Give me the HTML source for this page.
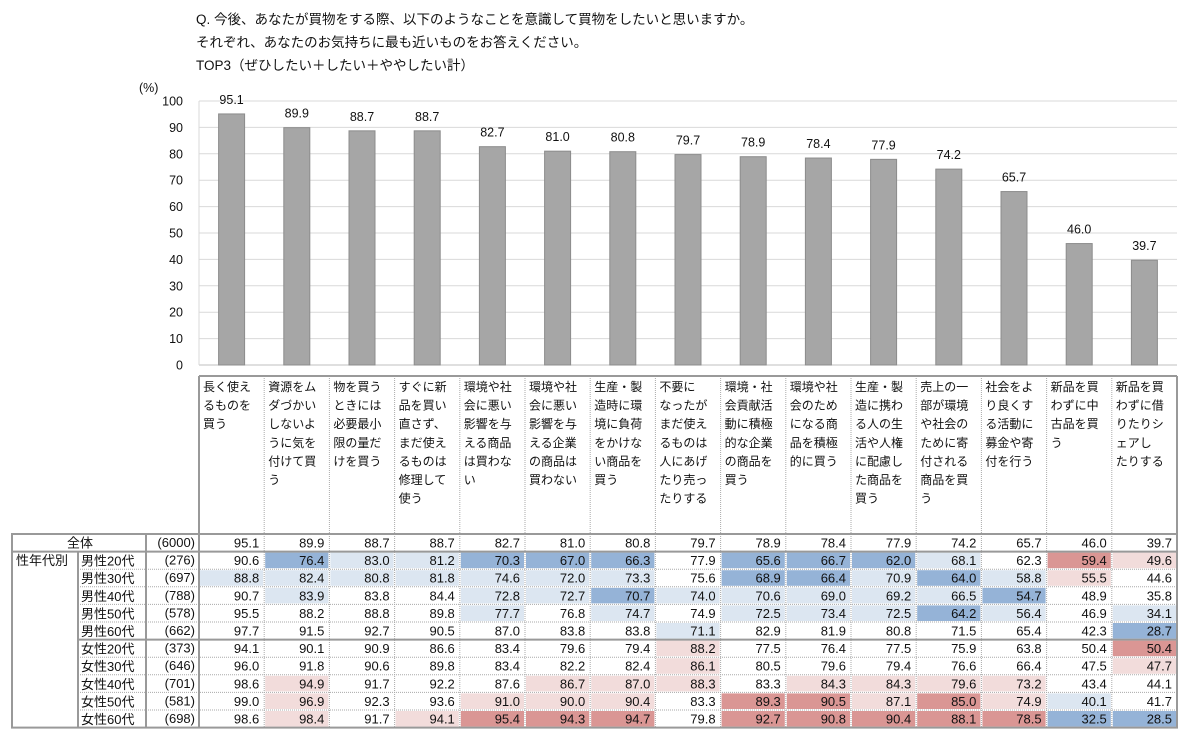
<!DOCTYPE html>
<html><head><meta charset="utf-8"><style>
body{margin:0;background:#fff;}
svg text{font-family:"Liberation Sans","Noto Sans CJK JP",sans-serif;fill:#111;}
</style></head><body>
<svg id="c" width="1186" height="738" xmlns="http://www.w3.org/2000/svg">
<text x="196" y="24" font-size="13.5">Q. 今後、あなたが買物をする際、以下のようなことを意識して買物をしたいと思いますか。</text>
<text x="196" y="47" font-size="13.5">それぞれ、あなたのお気持ちに最も近いものをお答えください。</text>
<text x="196" y="70" font-size="13.5">TOP3（ぜひしたい＋したい＋ややしたい計）</text>
<text x="139" y="92" font-size="12.5">(%)</text>
</svg>
<script>
const categories=[
"長く使え|るものを|買う","資源をム|ダづかい|しないよ|うに気を|付けて買|う","物を買う|ときには|必要最小|限の量だ|けを買う",
"すぐに新|品を買い|直さず、|まだ使え|るものは|修理して|使う","環境や社|会に悪い|影響を与|える商品|は買わな|い",
"環境や社|会に悪い|影響を与|える企業|の商品は|買わない","生産・製|造時に環|境に負荷|をかけな|い商品を|買う",
"不要に|なったが|まだ使え|るものは|人にあげ|たり売っ|たりする","環境・社|会貢献活|動に積極|的な企業|の商品を|買う",
"環境や社|会のため|になる商|品を積極|的に買う","生産・製|造に携わ|る人の生|活や人権|に配慮し|た商品を|買う",
"売上の一|部が環境|や社会の|ために寄|付される|商品を買|う","社会をよ|り良くす|る活動に|募金や寄|付を行う",
"新品を買|わずに中|古品を買|う","新品を買|わずに借|りたりシ|ェアし|たりする"];
const totals=[95.1,89.9,88.7,88.7,82.7,81.0,80.8,79.7,78.9,78.4,77.9,74.2,65.7,46.0,39.7];
const yTicks=[0,10,20,30,40,50,60,70,80,90,100];
const groups=["男性20代","男性30代","男性40代","男性50代","男性60代","女性20代","女性30代","女性40代","女性50代","女性60代"];
const counts=["(276)","(697)","(788)","(578)","(662)","(373)","(646)","(701)","(581)","(698)"];
const totalCount="(6000)";
const rowValues=[
[90.6,76.4,83.0,81.2,70.3,67.0,66.3,77.9,65.6,66.7,62.0,68.1,62.3,59.4,49.6],
[88.8,82.4,80.8,81.8,74.6,72.0,73.3,75.6,68.9,66.4,70.9,64.0,58.8,55.5,44.6],
[90.7,83.9,83.8,84.4,72.8,72.7,70.7,74.0,70.6,69.0,69.2,66.5,54.7,48.9,35.8],
[95.5,88.2,88.8,89.8,77.7,76.8,74.7,74.9,72.5,73.4,72.5,64.2,56.4,46.9,34.1],
[97.7,91.5,92.7,90.5,87.0,83.8,83.8,71.1,82.9,81.9,80.8,71.5,65.4,42.3,28.7],
[94.1,90.1,90.9,86.6,83.4,79.6,79.4,88.2,77.5,76.4,77.5,75.9,63.8,50.4,50.4],
[96.0,91.8,90.6,89.8,83.4,82.2,82.4,86.1,80.5,79.6,79.4,76.6,66.4,47.5,47.7],
[98.6,94.9,91.7,92.2,87.6,86.7,87.0,88.3,83.3,84.3,84.3,79.6,73.2,43.4,44.1],
[99.0,96.9,92.3,93.6,91.0,90.0,90.4,83.3,89.3,90.5,87.1,85.0,74.9,40.1,41.7],
[98.6,98.4,91.7,94.1,95.4,94.3,94.7,79.8,92.7,90.8,90.4,88.1,78.5,32.5,28.5]];

const svg=document.getElementById('c');
const NS='http://www.w3.org/2000/svg';
function el(t,a,txt){const e=document.createElementNS(NS,t);for(const k in a)e.setAttribute(k,a[k]);if(txt!=null)e.textContent=txt;svg.appendChild(e);return e;}
const X0=199,X1=1177,CW=(X1-X0)/15;
const yS=v=>365-v*2.64;
const xC=i=>X0+CW*(i+0.5);
yTicks.forEach(t=>{
 const g=el('line',{x1:X0,x2:X1,y1:yS(t),y2:yS(t),stroke:t===0?'#bfbfbf':'#d9d9d9','stroke-width':1});
 
 const l=el('text',{x:183,y:yS(t)+4.5,'font-size':12.5,'text-anchor':'end'},t);
 
});
el('line',{x1:X0,x2:X0,y1:yS(100),y2:yS(0),stroke:'#d9d9d9'});
totals.forEach((v,i)=>{
 const b=el('rect',{x:xC(i)-13,y:yS(v),width:26,height:yS(0)-yS(v),fill:'#a6a6a6',stroke:'#8c8c8c','stroke-width':1});
 
 const l=el('text',{x:xC(i),y:yS(v)-10,'font-size':12.5,'text-anchor':'middle'},v.toFixed(1));
 
});
const HT=376,RT=534,RH=17.6;
categories.forEach((c,i)=>{
 c.split('|').forEach((ln,k)=>{
  const t=el('text',{x:X0+CW*i+4,y:HT+15+k*18.6,'font-size':12},ln);
  
 });
});
function cellColor(v,tot){const d=v-tot;if(d>=10)return '#da9694';if(d>=5)return '#f2dcdb';if(d<=-10)return '#95b3d7';if(d<=-5)return '#dce6f1';return null;}
const allRows=[totals].concat(rowValues);
allRows.forEach((row,r)=>{
 const y=RT+r*RH;
 row.forEach((v,i)=>{
  const col=r===0?null:cellColor(v,totals[i]);
  if(col){const bg=el('rect',{x:X0+CW*i+1,y:y+1,width:CW-2,height:RH-2,fill:col});}
  const t=el('text',{x:X0+CW*(i+1)-5,y:y+13.5,'font-size':13,'text-anchor':'end'},v.toFixed(1));
  
 });
 const n=el('text',{x:195,y:y+13,'font-size':13,'text-anchor':'end'},r===0?totalCount:counts[r-1]);
 
 if(r===0){const g=el('text',{x:80,y:y+13.5,'font-size':13,'text-anchor':'middle'},'全体');}
 else{const g=el('text',{x:81,y:y+14,'font-size':13},groups[r-1]);}
});
const sg=el('text',{x:16,y:RT+RH+13.5,'font-size':13},'性年代別');

const RB=RT+11*RH;
for(let r=1;r<=10;r++){if(r===1||r===6)continue;el('line',{x1:78,x2:X1,y1:RT+r*RH,y2:RT+r*RH,stroke:'#aaa','stroke-dasharray':'1,1'});}
for(let i=1;i<15;i++){el('line',{x1:X0+CW*i,x2:X0+CW*i,y1:HT,y2:RB,stroke:'#aaa','stroke-dasharray':'1,1'});}
const th={stroke:'#999','stroke-width':2,fill:'none'};
el('line',Object.assign({x1:X0,x2:X1,y1:HT,y2:HT},th));
el('line',Object.assign({x1:X0,x2:X0,y1:HT,y2:RB},th));
el('line',Object.assign({x1:X1,x2:X1,y1:HT,y2:RB},th));
el('rect',Object.assign({x:12,y:RT,width:X1-12,height:RB-RT},th));
el('line',Object.assign({x1:12,x2:X1,y1:RT+RH,y2:RT+RH},th));
el('line',Object.assign({x1:78,x2:X1,y1:RT+6*RH,y2:RT+6*RH},th));
el('line',Object.assign({x1:146,x2:146,y1:RT,y2:RB},th));
el('line',Object.assign({x1:78,x2:78,y1:RT+RH,y2:RB},th));
</script>
</body></html>
